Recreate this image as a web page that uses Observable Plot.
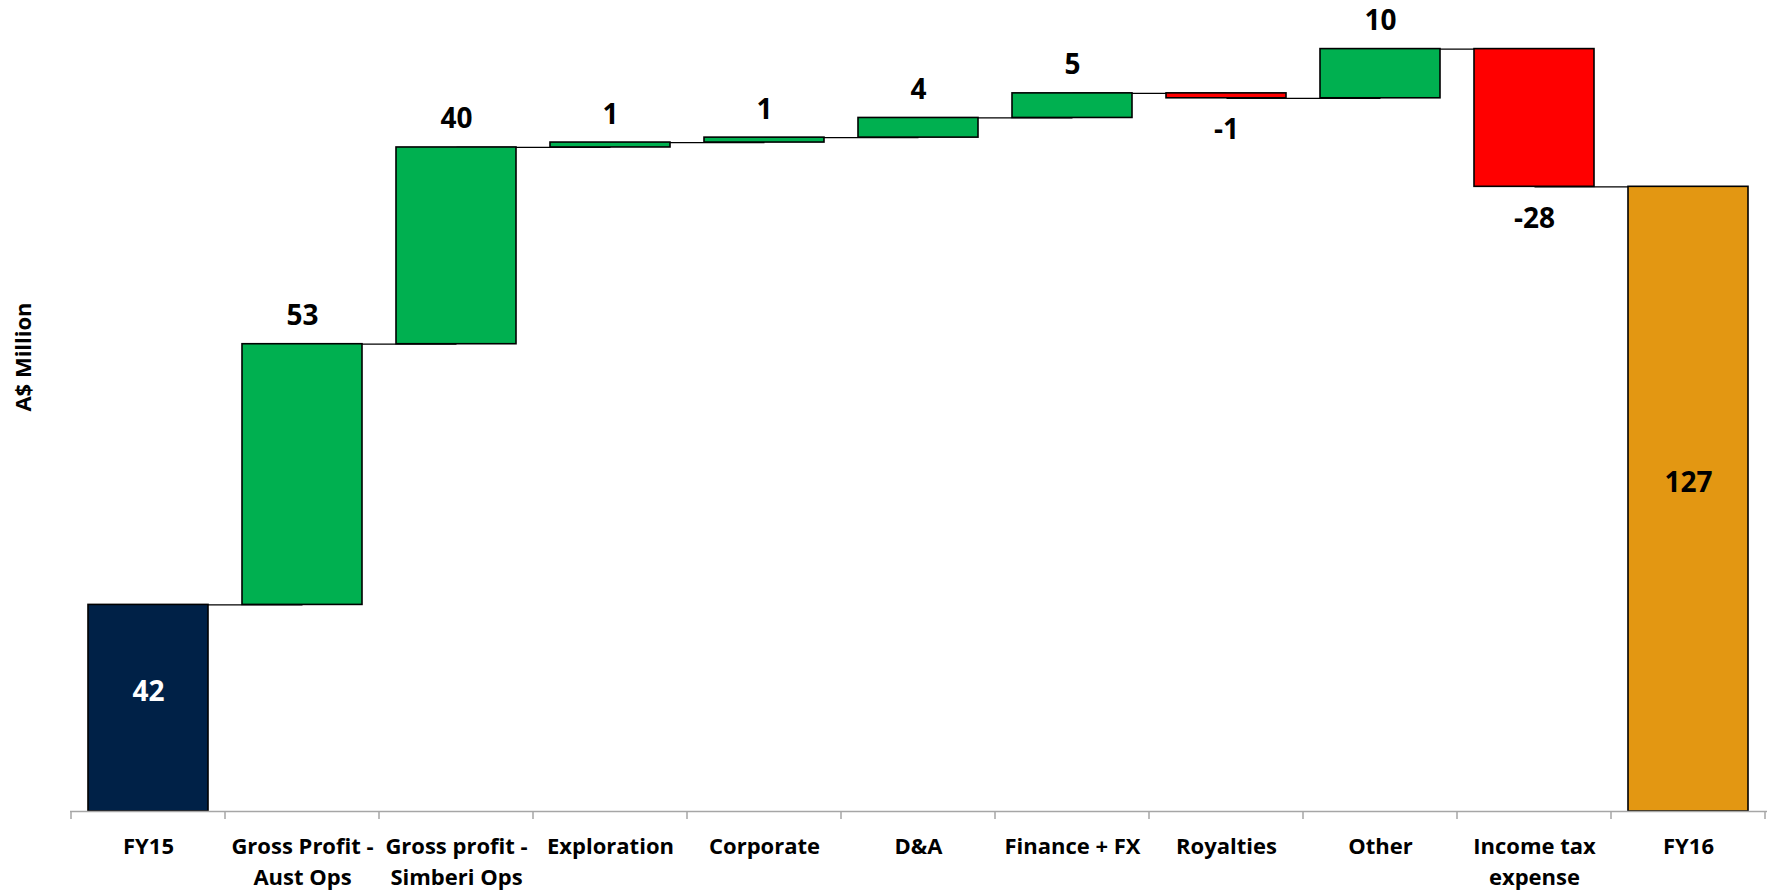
<!DOCTYPE html>
<html><head><meta charset="utf-8">
<script src="https://cdn.jsdelivr.net/npm/d3@7"></script>
<script src="https://cdn.jsdelivr.net/npm/@observablehq/plot@0.6"></script>
<style>body{margin:0;background:#fff;} svg{display:block;}</style>
</head><body><div id="chart"></div>
<script>
const categories = ["FY15", "Gross Profit - Aust Ops", "Gross profit - Simberi Ops", "Exploration", "Corporate", "D&A", "Finance + FX", "Royalties", "Other", "Income tax expense", "FY16"];
const tickLabels = ["FY15", "Gross Profit -\nAust Ops", "Gross profit -\nSimberi Ops", "Exploration", "Corporate", "D&A", "Finance + FX", "Royalties", "Other", "Income tax\nexpense", "FY16"];
const values = [42, 53, 40, 1, 1, 4, 5, -1, 10, -28, 127];
const kinds = ["start", "delta", "delta", "delta", "delta", "delta", "delta", "delta", "delta", "delta", "end"];
const kindNames = ["start", "up", "down", "end"];
const kindColors = ["#002147", "#00B050", "#FF0000", "#E39712"];
const axisLabel = "A$ Million";
const FONT = "'Open Sans', sans-serif";

let running = 0;
const rows = categories.map((c, i) => {
  const v = values[i], k = kinds[i];
  let y1, y2;
  if (k === "delta") { y1 = running; y2 = running + v; }
  else { y1 = 0; y2 = v; }
  running = y2;
  const kind = k === "delta" ? (v >= 0 ? "up" : "down") : k;
  return {cat: c, label: tickLabels[i], value: v, y1, y2, kind, level: running, next: categories[i + 1]};
});
const links = rows.slice(0, -1).map(r => ({x1: r.cat, x2: r.next, y: r.level}));

const chart = Plot.plot({
  width: 1773,
  height: 892,
  marginTop: 24,
  marginBottom: 81,
  marginLeft: 70,
  marginRight: 6,
  style: {fontFamily: FONT, background: "#fff"},
  x: {domain: categories, axis: null, paddingInner: 0.22, paddingOuter: 0.11},
  y: {domain: [0, 160], axis: null},
  color: {domain: kindNames, range: kindColors},
  marks: [
    Plot.link(links, {x1: "x1", x2: "x2", y1: "y", y2: "y", stroke: "#000", strokeWidth: 1.3}),
    Plot.barY(rows, {x: "cat", y1: "y1", y2: "y2", fill: "kind", stroke: "#000", strokeWidth: 1.6}),
    Plot.ruleY([0], {stroke: "#A6A6A6", strokeWidth: 1.5}),
    Plot.text(rows.filter(d => d.kind === "up"), {x: "cat", y: "y2", text: d => String(d.value), dy: -28, fontSize: 28, fontWeight: "bold", fontFamily: FONT, fill: "#000"}),
    Plot.text(rows.filter(d => d.kind === "down"), {x: "cat", y: "y2", text: d => String(d.value), dy: 32, fontSize: 28, fontWeight: "bold", fontFamily: FONT, fill: "#000"}),
    Plot.text(rows.filter(d => d.kind === "start" || d.kind === "end"), {x: "cat", y: d => (d.y1 + d.y2) / 2, text: d => String(d.value), dy: -16, fontSize: 28, fontWeight: "bold", fontFamily: FONT, fill: d => d.kind === "start" ? "#fff" : "#000"}),
    Plot.text(rows, {x: "cat", text: "label", frameAnchor: "bottom", lineAnchor: "top", dy: 21, fontSize: 22, fontWeight: "bold", fontFamily: FONT, lineHeight: 1.4, fill: "#000"}),
    Plot.text([axisLabel], {text: d => d, frameAnchor: "left", textAnchor: "middle", rotate: -90, dx: -47, dy: -61, fontSize: 22, fontWeight: "bold", fontFamily: FONT, fill: "#000"})
  ]
});

// Category-boundary tick marks below the axis (Excel style)
const xs = chart.scale("x");
const ys = chart.scale("y");
const half = (xs.step - xs.bandwidth) / 2;
const y0 = ys.apply(0);
const bounds = categories.map(c => xs.apply(c) - half);
bounds.push(xs.apply(categories[categories.length - 1]) + xs.bandwidth + half);
const g = d3.select(chart).append("g").attr("stroke", "#A6A6A6").attr("stroke-width", 1.5);
bounds.forEach(b => g.append("line").attr("x1", b).attr("x2", b).attr("y1", y0).attr("y2", y0 + 8));

document.getElementById("chart").appendChild(chart);
</script>
</body></html>
